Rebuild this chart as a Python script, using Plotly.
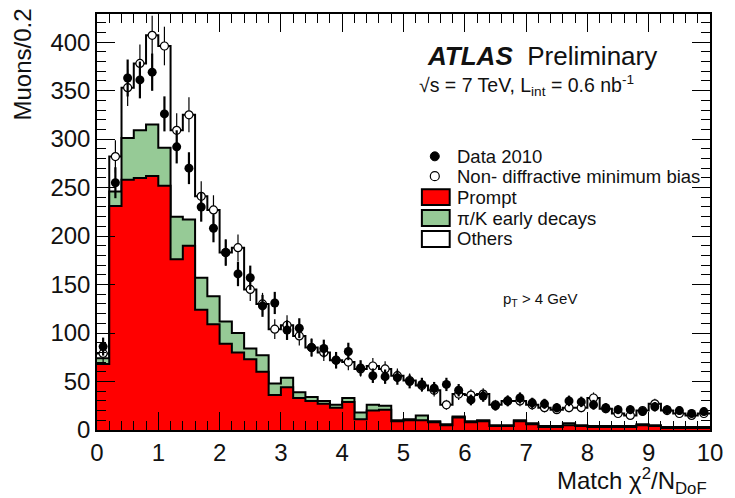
import numpy as np
import plotly.graph_objects as go

# Match chi2/NDoF, 50 bins of width 0.2 between 0 and 10
bin_lo, bin_hi, n_bins = 0.0, 10.0, 50

# Stacked simulation components (muons per bin)
prompt = [68, 231, 258, 260, 262, 252, 176, 190, 124, 109,
          89, 80, 73, 60, 36, 44, 33, 30, 27, 23,
          29, 11, 20, 21, 9, 10, 10, 8, 5, 13,
          8, 9, 4, 4, 9, 6, 3, 3, 5, 4,
          3, 3, 3, 3, 5, 4, 2, 2, 2, 2]
pik_decays = [6, 15, 43, 49, 53, 39, 44, 27, 33, 29,
              23, 20, 11, 17, 12, 10, 6, 4, 3, 3,
              4, 7, 6, 4, 1, 1, 5, 1, 1, 1,
              1, 1, 1, 1, 1, 1, 1, 1, 2, 1,
              1, 1, 1, 1, 1, 1, 1, 1, 1, 1]
others = [5, 36, 52, 69, 92, 105, 89, 108, 84, 89,
          71, 88, 61, 53, 56, 54, 58, 51, 50, 46,
          37, 45, 40, 38, 46, 40, 31, 32, 20, 23,
          27, 27, 21, 25, 20, 19, 19, 17, 16, 18,
          29, 18, 13, 11, 14, 22, 17, 14, 12, 14]

# Data 2010
data_2010 = [86, 255, 363, 361, 369, 326, 292, 270, 230, 208,
             183, 161, 157, 128, 131, 103, 105, 85, 84, 72,
             81, 64, 56, 55, 54, 50, 47, 43, 47, 41,
             31, 35, 25, 30, 33, 28, 27, 23, 30, 29,
             26, 23, 21, 21, 19, 24, 21, 20, 17, 19]

FONT = "Liberation Sans, Arial, Helvetica, sans-serif"
RED = "#ff0000"
GREEN = "#96ca96"

edges = np.linspace(bin_lo, bin_hi, n_bins + 1)
centers = 0.5 * (edges[:-1] + edges[1:])

s_prompt = np.array(prompt, dtype=float)
s_green = s_prompt + np.array(pik_decays, dtype=float)
s_total = s_green + np.array(others, dtype=float)
data = np.array(data_2010, dtype=float)


def step_y(vals):
    v = list(vals)
    return v + [v[-1]]


fig = go.Figure()

# stacked histogram, back to front: total, then prompt + pi/K, then prompt
for vals, fill in [(s_total, "white"), (s_green, GREEN), (s_prompt, RED)]:
    fig.add_trace(go.Scatter(
        x=edges, y=step_y(vals), mode="lines", line_shape="hv",
        line=dict(color="black", width=2), fill="tozeroy", fillcolor=fill,
        hoverinfo="skip", showlegend=False))

# Non-diffractive minimum bias simulation points
fig.add_trace(go.Scatter(
    x=centers, y=s_total, mode="markers",
    marker=dict(symbol="circle", size=8, color="white",
                line=dict(width=1.2, color="black")),
    error_y=dict(type="data", array=np.sqrt(s_total), width=0, thickness=1.2, color="black"),
    showlegend=False))

# Data 2010 points
fig.add_trace(go.Scatter(
    x=centers, y=data, mode="markers",
    marker=dict(symbol="circle", size=9, color="black"),
    error_y=dict(type="data", array=np.sqrt(data), width=0, thickness=2.2, color="black"),
    showlegend=False))

W, H = 735, 498
ML, MR, MT, MB = 97, 21, 12, 68
PW, PH = W - ML - MR, H - MT - MB


def px(x):
    return (x - ML) / PW


def py(y):
    return (H - MB - y) / PH


annotations = [
    dict(text="Muons/0.2", x=px(22), y=py(4), textangle=-90,
         xanchor="center", yanchor="top", font=dict(size=24)),
    dict(text="Match χ<sup>2</sup>/N<sub>DoF</sub>", x=px(713), y=py(481),
         xanchor="right", yanchor="middle", font=dict(size=24)),
    dict(text="<b><i>ATLAS</i></b>  Preliminary", x=px(427), y=py(54),
         xanchor="left", yanchor="middle", font=dict(size=26)),
    dict(text="√s = 7 TeV, L<sub>int</sub> = 0.6 nb<sup>-1</sup>",
         x=px(419), y=py(84), xanchor="left", yanchor="middle", font=dict(size=19.5)),
    dict(text="p<sub>T</sub> > 4 GeV", x=px(504), y=py(299),
         xanchor="left", yanchor="middle", font=dict(size=15)),
]

legend_rows = [("Data 2010", 155), ("Non- diffractive minimum bias", 175),
               ("Prompt", 196), ("π/K early decays", 217), ("Others", 238)]
for label, yy in legend_rows:
    annotations.append(dict(text=label, x=px(457), y=py(yy), xanchor="left",
                            yanchor="middle", font=dict(size=18.5)))

shapes = [
    dict(type="circle", xref="paper", yref="paper", xsizemode="pixel", ysizemode="pixel",
         xanchor=px(437), yanchor=py(155), x0=-4.5, x1=4.5, y0=-4.5, y1=4.5,
         fillcolor="black", line=dict(color="black", width=1)),
    dict(type="circle", xref="paper", yref="paper", xsizemode="pixel", ysizemode="pixel",
         xanchor=px(437), yanchor=py(175), x0=-4.5, x1=4.5, y0=-4.5, y1=4.5,
         fillcolor="white", line=dict(color="black", width=1.2)),
]
for fill, yy in [(RED, 196), (GREEN, 217), ("white", 238)]:
    shapes.append(dict(type="rect", xref="paper", yref="paper",
                       x0=px(424), x1=px(452), y0=py(yy + 8), y1=py(yy - 8),
                       fillcolor=fill, line=dict(color="black", width=2)))

for a in annotations:
    a.update(xref="paper", yref="paper", showarrow=False)
    a.setdefault("font", {})
    a["font"].update(family=FONT, color="#111111")

axis_common = dict(
    ticks="inside", ticklen=18, tickwidth=1, tickcolor="black",
    showline=True, linecolor="black", linewidth=1.5, mirror="ticks",
    showgrid=False, zeroline=False,
    tickfont=dict(family=FONT, size=24, color="#111111"),
)

fig.update_layout(
    width=W, height=H,
    margin=dict(l=ML, r=MR, t=MT, b=MB),
    paper_bgcolor="white", plot_bgcolor="white",
    showlegend=False,
    xaxis=dict(range=[bin_lo, bin_hi], tick0=0, dtick=1,
               minor=dict(ticks="inside", ticklen=9, dtick=0.2, tickcolor="black"),
               **axis_common),
    yaxis=dict(range=[0, 429], tick0=0, dtick=50,
               minor=dict(ticks="inside", ticklen=9, dtick=10, tickcolor="black"),
               **axis_common),
    annotations=annotations,
    shapes=shapes,
)

fig.write_html("out.html")
